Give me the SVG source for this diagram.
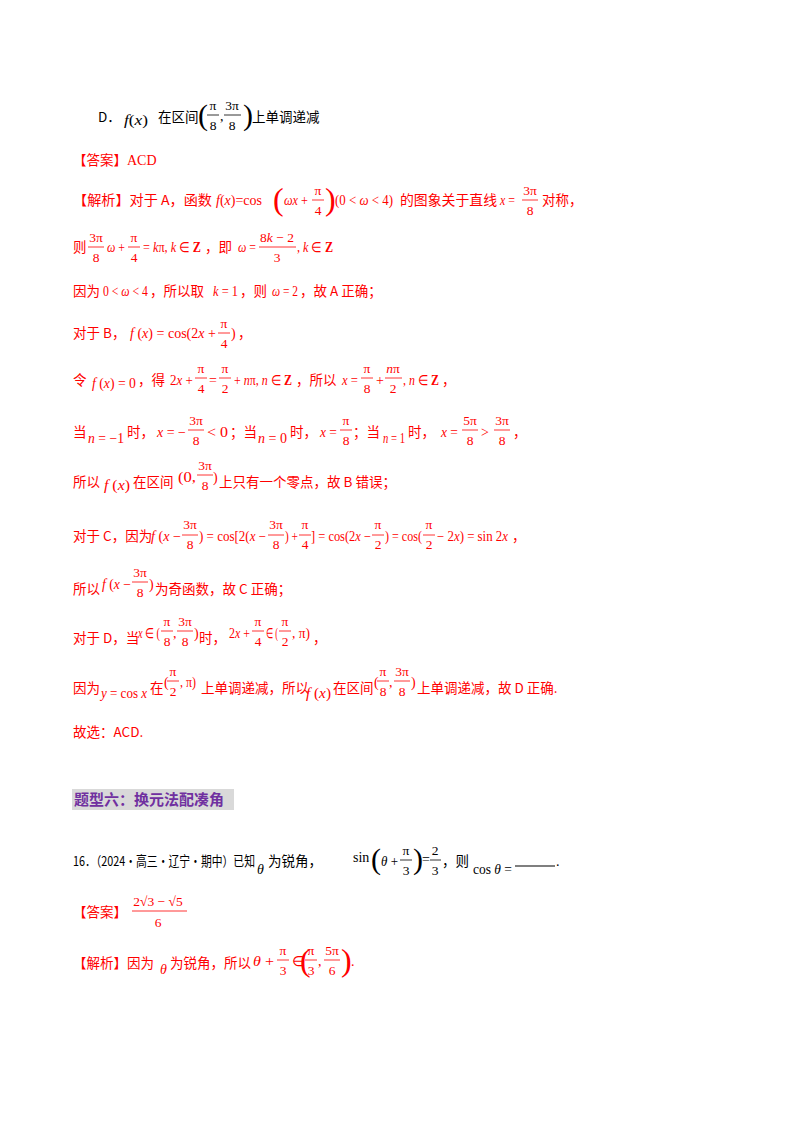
<svg xmlns="http://www.w3.org/2000/svg" width="800" height="1132" viewBox="0 0 800 1132">
<style>
.z{font-family:"Noto Sans CJK SC",sans-serif;font-size:13.5px}
.m{font-family:"Liberation Serif",serif;font-size:14px}
.i{font-style:italic}
.f{font-family:"Liberation Serif",serif;font-size:13.5px;text-anchor:middle}
.b{font-family:"Liberation Serif",serif}
.r{fill:#f00}
.k{fill:#000}
.bar{stroke-width:0.8}
.r .bar{stroke:#f00}
.k .bar{stroke:#000}
</style>
<rect width="800" height="1132" fill="#fff"/>
<g class="k">
<text x="98" y="122" class="z">D．</text>
<text x="124" y="125" class="m" textLength="24" lengthAdjust="spacingAndGlyphs"><tspan class="i">f</tspan>(<tspan class="i">x</tspan>)</text>
<text x="158" y="122" class="z">在区间</text>
<text x="198" y="125" class="b" font-size="30">(</text>
<text x="213" y="110" class="f">π</text><line x1="207" x2="219" y1="115" y2="115" class="bar"/><text x="213" y="130" class="f">8</text>
<text x="220" y="121" class="m">,</text>
<text x="232" y="110" class="f">3π</text><line x1="224" x2="241" y1="115" y2="115" class="bar"/><text x="232" y="130" class="f">8</text>
<text x="243" y="125" class="b" font-size="30">)</text>
<text x="252" y="122" class="z">上单调递减</text>
</g>
<g class="r">
<text x="73" y="165" class="z">【答案】<tspan class="m">ACD</tspan></text>
<text x="73" y="205" class="z" textLength="139" lengthAdjust="spacingAndGlyphs">【解析】对于 A，函数</text>
<text x="216" y="205" class="m" textLength="46" lengthAdjust="spacingAndGlyphs"><tspan class="i">f</tspan>(<tspan class="i">x</tspan>)=cos</text>
<text x="273" y="210" class="b" font-size="32">(</text>
<text x="284" y="205" class="m" textLength="24" lengthAdjust="spacingAndGlyphs"><tspan class="i">ωx</tspan> +</text>
<text x="318" y="195" class="f">π</text><line x1="312" x2="324" y1="200" y2="200" class="bar"/><text x="318" y="215" class="f">4</text>
<text x="325" y="210" class="b" font-size="32">)</text>
<text x="335" y="205" class="m" textLength="58" lengthAdjust="spacingAndGlyphs">(0 &lt; <tspan class="i">ω</tspan> &lt; 4)</text>
<text x="400" y="205" class="z" textLength="97" lengthAdjust="spacingAndGlyphs">的图象关于直线</text>
<text x="500" y="205" class="m" textLength="15" lengthAdjust="spacingAndGlyphs"><tspan class="i">x</tspan> =</text>
<text x="530" y="195" class="f">3π</text><line x1="522" x2="538" y1="200" y2="200" class="bar"/><text x="530" y="215" class="f">8</text>
<text x="542" y="205" class="z">对称，</text>

<text x="73" y="252" class="z">则</text>
<text x="96" y="242" class="f">3π</text><line x1="88" x2="104" y1="247" y2="247" class="bar"/><text x="96" y="262" class="f">8</text>
<text x="107" y="252" class="m" textLength="18" lengthAdjust="spacingAndGlyphs"><tspan class="i">ω</tspan> +</text>
<text x="134" y="242" class="f">π</text><line x1="128" x2="140" y1="247" y2="247" class="bar"/><text x="134" y="262" class="f">4</text>
<text x="143" y="252" class="m" textLength="58" lengthAdjust="spacingAndGlyphs">= <tspan class="i">k</tspan>π, <tspan class="i">k</tspan> ∈ <tspan font-weight="bold">Z</tspan></text>
<text x="205" y="252" class="z">，即</text>
<text x="238" y="252" class="m" textLength="18" lengthAdjust="spacingAndGlyphs"><tspan class="i">ω</tspan> =</text>
<text x="277" y="242" class="f">8<tspan class="i">k</tspan> − 2</text><line x1="259" x2="296" y1="247" y2="247" class="bar"/><text x="277" y="262" class="f">3</text>
<text x="297" y="252" class="m" textLength="36" lengthAdjust="spacingAndGlyphs">, <tspan class="i">k</tspan> ∈ <tspan font-weight="bold">Z</tspan></text>

<text x="73" y="296" class="z">因为</text>
<text x="103" y="296" class="m" textLength="45" lengthAdjust="spacingAndGlyphs">0 &lt; <tspan class="i">ω</tspan> &lt; 4</text>
<text x="150" y="296" class="z">，所以取</text>
<text x="213" y="296" class="m" textLength="25" lengthAdjust="spacingAndGlyphs"><tspan class="i">k</tspan> = 1</text>
<text x="240" y="296" class="z">，则</text>
<text x="272" y="296" class="m" textLength="26" lengthAdjust="spacingAndGlyphs"><tspan class="i">ω</tspan> = 2</text>
<text x="300" y="296" class="z">，故 A 正确；</text>

<text x="73" y="338" class="z">对于 B，</text>
<text x="130" y="338" class="m" textLength="86" lengthAdjust="spacingAndGlyphs"><tspan class="i">f</tspan> (<tspan class="i">x</tspan>) = cos(2<tspan class="i">x</tspan> +</text>
<text x="224" y="328" class="f">π</text><line x1="218" x2="230" y1="333" y2="333" class="bar"/><text x="224" y="348" class="f">4</text>
<text x="231" y="338" class="m">)</text><text x="238" y="338" class="z">，</text>

<text x="73" y="385" class="z">令</text>
<text x="92" y="388" class="m" textLength="44" lengthAdjust="spacingAndGlyphs"><tspan class="i">f</tspan> (<tspan class="i">x</tspan>) = 0</text>
<text x="138" y="385" class="z">，得</text>
<text x="170" y="385" class="m" textLength="23" lengthAdjust="spacingAndGlyphs">2<tspan class="i">x</tspan> +</text>
<text x="201" y="373" class="f">π</text><line x1="195" x2="207" y1="378" y2="378" class="bar"/><text x="201" y="393" class="f">4</text>
<text x="209" y="385" class="m">=</text>
<text x="225" y="373" class="f">π</text><line x1="219" x2="231" y1="378" y2="378" class="bar"/><text x="225" y="393" class="f">2</text>
<text x="234" y="385" class="m" textLength="58" lengthAdjust="spacingAndGlyphs">+ <tspan class="i">n</tspan>π, <tspan class="i">n</tspan> ∈ <tspan font-weight="bold">Z</tspan></text>
<text x="296" y="385" class="z">，所以</text>
<text x="342" y="385" class="m" textLength="16" lengthAdjust="spacingAndGlyphs"><tspan class="i">x</tspan> =</text>
<text x="367" y="373" class="f">π</text><line x1="361" x2="373" y1="378" y2="378" class="bar"/><text x="367" y="393" class="f">8</text>
<text x="376" y="385" class="m">+</text>
<text x="393" y="373" class="f"><tspan class="i">n</tspan>π</text><line x1="385" x2="402" y1="378" y2="378" class="bar"/><text x="393" y="393" class="f">2</text>
<text x="403" y="385" class="m" textLength="36" lengthAdjust="spacingAndGlyphs">, <tspan class="i">n</tspan> ∈ <tspan font-weight="bold">Z</tspan></text>
<text x="442" y="385" class="z">，</text>

<text x="73" y="437" class="z">当</text>
<text x="88" y="443" class="m" textLength="36" lengthAdjust="spacingAndGlyphs"><tspan class="i">n</tspan> = −1</text>
<text x="127" y="437" class="z">时，</text>
<text x="157" y="437" class="m" textLength="29" lengthAdjust="spacingAndGlyphs"><tspan class="i">x</tspan> = −</text>
<text x="196" y="425" class="f">3π</text><line x1="188" x2="204" y1="430" y2="430" class="bar"/><text x="196" y="445" class="f">8</text>
<text x="207" y="437" class="m" textLength="21" lengthAdjust="spacingAndGlyphs">&lt; 0</text>
<text x="230" y="437" class="z">；当</text>
<text x="258" y="443" class="m" textLength="29" lengthAdjust="spacingAndGlyphs"><tspan class="i">n</tspan> = 0</text>
<text x="290" y="437" class="z">时，</text>
<text x="320" y="437" class="m" textLength="17" lengthAdjust="spacingAndGlyphs"><tspan class="i">x</tspan> =</text>
<text x="346" y="425" class="f">π</text><line x1="340" x2="352" y1="430" y2="430" class="bar"/><text x="346" y="445" class="f">8</text>
<text x="353" y="437" class="z">；当</text>
<text x="383" y="443" class="m" textLength="22" lengthAdjust="spacingAndGlyphs"><tspan class="i">n</tspan> = 1</text>
<text x="408" y="437" class="z">时，</text>
<text x="441" y="437" class="m" textLength="17" lengthAdjust="spacingAndGlyphs"><tspan class="i">x</tspan> =</text>
<text x="470" y="425" class="f">5π</text><line x1="462" x2="478" y1="430" y2="430" class="bar"/><text x="470" y="445" class="f">8</text>
<text x="481" y="437" class="m">&gt;</text>
<text x="502" y="425" class="f">3π</text><line x1="494" x2="510" y1="430" y2="430" class="bar"/><text x="502" y="445" class="f">8</text>
<text x="513" y="437" class="z">，</text>

<text x="73" y="487" class="z">所以</text>
<text x="104" y="490" class="m" textLength="26" lengthAdjust="spacingAndGlyphs"><tspan class="i">f</tspan> (<tspan class="i">x</tspan>)</text>
<text x="133" y="487" class="z">在区间</text>
<text x="178" y="482" class="m" textLength="18" lengthAdjust="spacingAndGlyphs">(0,</text>
<text x="205" y="470" class="f">3π</text><line x1="197" x2="213" y1="475" y2="475" class="bar"/><text x="205" y="490" class="f">8</text>
<text x="213" y="482" class="m">)</text>
<text x="219" y="487" class="z">上只有一个零点，故 B 错误；</text>

<text x="73" y="541" class="z">对于 C，因为</text>
<text x="151" y="541" class="m" textLength="30" lengthAdjust="spacingAndGlyphs"><tspan class="i">f</tspan> (<tspan class="i">x</tspan> −</text>
<text x="190" y="529" class="f">3π</text><line x1="182" x2="198" y1="535" y2="535" class="bar"/><text x="190" y="549" class="f">8</text>
<text x="199" y="541" class="m" textLength="67" lengthAdjust="spacingAndGlyphs">) = cos[2(<tspan class="i">x</tspan> −</text>
<text x="276" y="529" class="f">3π</text><line x1="268" x2="284" y1="535" y2="535" class="bar"/><text x="276" y="549" class="f">8</text>
<text x="285" y="541" class="m" textLength="13" lengthAdjust="spacingAndGlyphs">) +</text>
<text x="305" y="529" class="f">π</text><line x1="299" x2="311" y1="535" y2="535" class="bar"/><text x="305" y="549" class="f">4</text>
<text x="311" y="541" class="m" textLength="60" lengthAdjust="spacingAndGlyphs">] = cos(2<tspan class="i">x</tspan> −</text>
<text x="378" y="529" class="f">π</text><line x1="372" x2="384" y1="535" y2="535" class="bar"/><text x="378" y="549" class="f">2</text>
<text x="385" y="541" class="m" textLength="37" lengthAdjust="spacingAndGlyphs">) = cos(</text>
<text x="429" y="529" class="f">π</text><line x1="423" x2="435" y1="535" y2="535" class="bar"/><text x="429" y="549" class="f">2</text>
<text x="437" y="541" class="m" textLength="71" lengthAdjust="spacingAndGlyphs">− 2<tspan class="i">x</tspan>) = sin 2<tspan class="i">x</tspan></text>
<text x="512" y="541" class="z">，</text>

<text x="73" y="594" class="z">所以</text>
<text x="102" y="589" class="m" textLength="29" lengthAdjust="spacingAndGlyphs"><tspan class="i">f</tspan> (<tspan class="i">x</tspan> −</text>
<text x="140" y="577" class="f">3π</text><line x1="132" x2="148" y1="582" y2="582" class="bar"/><text x="140" y="597" class="f">8</text>
<text x="149" y="589" class="m">)</text>
<text x="155" y="594" class="z">为奇函数，故 C 正确；</text>

<text x="73" y="643" class="z">对于 D，当</text>
<text x="138" y="638" class="m" textLength="22" lengthAdjust="spacingAndGlyphs"><tspan class="i">x</tspan> ∈ (</text>
<text x="167" y="626" class="f">π</text><line x1="161" x2="173" y1="631" y2="631" class="bar"/><text x="167" y="646" class="f">8</text>
<text x="173" y="638" class="m">,</text>
<text x="185" y="626" class="f">3π</text><line x1="177" x2="193" y1="631" y2="631" class="bar"/><text x="185" y="646" class="f">8</text>
<text x="194" y="638" class="m">)</text>
<text x="199" y="643" class="z">时，</text>
<text x="229" y="638" class="m" textLength="21" lengthAdjust="spacingAndGlyphs">2<tspan class="i">x</tspan> +</text>
<text x="258" y="626" class="f">π</text><line x1="252" x2="264" y1="631" y2="631" class="bar"/><text x="258" y="646" class="f">4</text>
<text x="266" y="638" class="m" textLength="12" lengthAdjust="spacingAndGlyphs">∈ (</text>
<text x="285" y="626" class="f">π</text><line x1="279" x2="291" y1="631" y2="631" class="bar"/><text x="285" y="646" class="f">2</text>
<text x="292" y="638" class="m" textLength="18" lengthAdjust="spacingAndGlyphs">, π)</text>
<text x="313" y="643" class="z">，</text>

<text x="73" y="693" class="z">因为</text>
<text x="101" y="698" class="m" textLength="46" lengthAdjust="spacingAndGlyphs"><tspan class="i">y</tspan> = cos <tspan class="i">x</tspan></text>
<text x="150" y="693" class="z">在</text>
<text x="164" y="687" class="m">(</text>
<text x="173" y="676" class="f">π</text><line x1="167" x2="179" y1="681" y2="681" class="bar"/><text x="173" y="696" class="f">2</text>
<text x="180" y="687" class="m" textLength="16" lengthAdjust="spacingAndGlyphs">, π)</text>
<text x="201" y="693" class="z">上单调递减，所以</text>
<text x="306" y="698" class="m" textLength="25" lengthAdjust="spacingAndGlyphs"><tspan class="i">f</tspan> (<tspan class="i">x</tspan>)</text>
<text x="333" y="693" class="z">在区间</text>
<text x="374" y="687" class="m">(</text>
<text x="383" y="676" class="f">π</text><line x1="377" x2="389" y1="681" y2="681" class="bar"/><text x="383" y="696" class="f">8</text>
<text x="389" y="687" class="m">,</text>
<text x="402" y="676" class="f">3π</text><line x1="394" x2="410" y1="681" y2="681" class="bar"/><text x="402" y="696" class="f">8</text>
<text x="411" y="687" class="m">)</text>
<text x="417" y="693" class="z">上单调递减，故 D 正确.</text>
<text x="73" y="737" class="z">故选：ACD.</text>
</g>
<g id="heading">
<rect x="72" y="789" width="162" height="21" fill="#d9d9d9"/>
<text x="74" y="805" font-family="Noto Sans CJK SC,sans-serif" font-size="15px" font-weight="bold" fill="#7030a0">题型六：换元法配凑角</text>
</g>
<g class="k">
<text x="73" y="866" class="z" textLength="182" lengthAdjust="spacingAndGlyphs">16．（2024·高三·辽宁·期中）已知</text>
<text x="257" y="874" class="m i">θ</text>
<text x="268" y="866" class="z">为锐角，</text>
<text x="353" y="862" class="m">sin</text>
<text x="371" y="869" class="b" font-size="30">(</text>
<text x="381" y="866" class="m" textLength="17" lengthAdjust="spacingAndGlyphs"><tspan class="i">θ</tspan> +</text>
<text x="406" y="855" class="f">π</text><line x1="400" x2="412" y1="860" y2="860" class="bar"/><text x="406" y="875" class="f">3</text>
<text x="413" y="869" class="b" font-size="30">)</text>
<text x="422" y="864" class="m">=</text>
<text x="435" y="855" class="f">2</text><line x1="430" x2="441" y1="860" y2="860" class="bar"/><text x="435" y="875" class="f">3</text>
<text x="442" y="866" class="z">，则</text>
<text x="473" y="874" class="m" textLength="39" lengthAdjust="spacingAndGlyphs">cos <tspan class="i">θ</tspan> =</text>
<line x1="515" x2="555" y1="866" y2="866" stroke="#000" stroke-width="1.2"/>
<text x="556" y="866" class="m">.</text>
</g>
<g class="r">
<text x="73" y="917" class="z">【答案】</text>
<text x="158" y="906" class="f" font-size="15">2√3 − √5</text><line x1="132" x2="187" y1="911" y2="911" class="bar"/><text x="158" y="927" class="f" font-size="15">6</text>
<text x="73" y="968" class="z">【解析】因为</text>
<text x="160" y="974" class="m i">θ</text>
<text x="170" y="968" class="z">为锐角，所以</text>
<text x="253" y="966" class="m" textLength="21" lengthAdjust="spacingAndGlyphs"><tspan class="i">θ</tspan> +</text>
<text x="283" y="955" class="f">π</text><line x1="277" x2="289" y1="960" y2="960" class="bar"/><text x="283" y="975" class="f">3</text>
<text x="292" y="966" class="m">∈</text>
<text x="300" y="971" class="b" font-size="32">(</text>
<text x="311" y="955" class="f">π</text><line x1="305" x2="317" y1="960" y2="960" class="bar"/><text x="311" y="975" class="f">3</text>
<text x="318" y="966" class="m">,</text>
<text x="332" y="955" class="f">5π</text><line x1="324" x2="340" y1="960" y2="960" class="bar"/><text x="332" y="975" class="f">6</text>
<text x="341" y="971" class="b" font-size="32">)</text>
<text x="351" y="966" class="m">.</text>
</g>
</svg>
